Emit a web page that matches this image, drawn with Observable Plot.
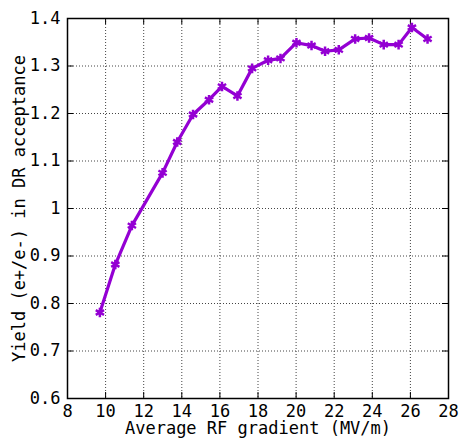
<!DOCTYPE html>
<html>
<head>
<meta charset="utf-8">
<script src="https://cdn.jsdelivr.net/npm/d3@7"></script>
<script src="https://cdn.jsdelivr.net/npm/@observablehq/plot@0.6"></script>
<style>
  html, body { margin: 0; padding: 0; background: #fff; }
  #chart svg { display: block; }
</style>
</head>
<body>
<div id="chart"></div>
<script>
const gradient = [9.70, 10.51, 11.38, 12.99, 13.76, 14.59, 15.43, 16.11, 16.92, 17.69, 18.53, 19.18, 20.02, 20.81, 21.52, 22.24, 23.10, 23.83, 24.60, 25.38, 26.08, 26.90];
const yieldVals = [0.781, 0.882, 0.964, 1.075, 1.140, 1.198, 1.229, 1.257, 1.237, 1.295, 1.312, 1.316, 1.349, 1.343, 1.331, 1.334, 1.357, 1.359, 1.345, 1.345, 1.381, 1.357];
const xTicks = [8, 10, 12, 14, 16, 18, 20, 22, 24, 26, 28];
const yTicks = [0.6, 0.7, 0.8, 0.9, 1.0, 1.1, 1.2, 1.3, 1.4];
const yTickLabels = ["0.6", "0.7", "0.8", "0.9", "1", "1.1", "1.2", "1.3", "1.4"];
const xLabel = "Average RF gradient (MV/m)";
const yLabel = "Yield (e+/e-) in DR acceptance";

const data = gradient.map((g, i) => ({g, y: yieldVals[i]}));
const W = 465, H = 438;
const mL = 67, mR = 17, mT = 18, mB = 40;
const plotH = H - mT - mB, plotW = W - mL - mR;
const tickLen = 6;
const ink = "#000";
const purple = "#9400D3";

const chart = Plot.plot({
  width: W, height: H,
  marginLeft: mL, marginRight: mR, marginTop: mT, marginBottom: mB,
  style: {fontFamily: "DejaVu Sans Mono", fontSize: "17px", color: ink, background: "#fff"},
  x: {domain: [8, 28]},
  y: {domain: [0.6, 1.4]},
  marks: [
    // dotted grid
    Plot.ruleX(xTicks.slice(1, -1), {x: d => d, y1: 1.4, y2: 0.6, stroke: "#444", strokeWidth: 1, strokeDasharray: "1,2"}),
    Plot.ruleY(yTicks.slice(1, -1), {y: d => d, x1: 8, x2: 28, stroke: "#444", strokeWidth: 1, strokeDasharray: "1,2"}),
    // inward ticks (bottom, top, left, right)
    Plot.ruleX(xTicks, {x: d => d, y1: 1.4, y2: 0.6, insetTop: plotH - tickLen, stroke: ink, strokeWidth: 1}),
    Plot.ruleX(xTicks, {x: d => d, y1: 1.4, y2: 0.6, insetBottom: plotH - tickLen, stroke: ink, strokeWidth: 1}),
    Plot.ruleY(yTicks, {y: d => d, x1: 8, x2: 28, insetRight: plotW - tickLen, stroke: ink, strokeWidth: 1}),
    Plot.ruleY(yTicks, {y: d => d, x1: 8, x2: 28, insetLeft: plotW - tickLen, stroke: ink, strokeWidth: 1}),
    Plot.frame({stroke: ink, strokeWidth: 1.5}),
    Plot.axisX({ticks: xTicks, tickSize: 0, tickPadding: 6, tickFormat: d => String(d),
      label: xLabel, labelAnchor: "center", labelArrow: "none", labelOffset: 35, fontSize: 17}),
    Plot.axisY({ticks: yTicks, tickSize: 0, tickPadding: 7, tickFormat: d => yTickLabels[yTicks.indexOf(d)],
      label: yLabel, labelAnchor: "center", labelArrow: "none", labelOffset: 55, fontSize: 17}),
    Plot.line(data, {x: "g", y: "y", stroke: purple, strokeWidth: 3.2, strokeLinejoin: "miter"}),
    Plot.dot(data, {x: "g", y: "y", symbol: "asterisk", r: 4.5, stroke: purple, strokeWidth: 2.5})
  ]
});
document.getElementById("chart").appendChild(chart);
</script>
</body>
</html>
